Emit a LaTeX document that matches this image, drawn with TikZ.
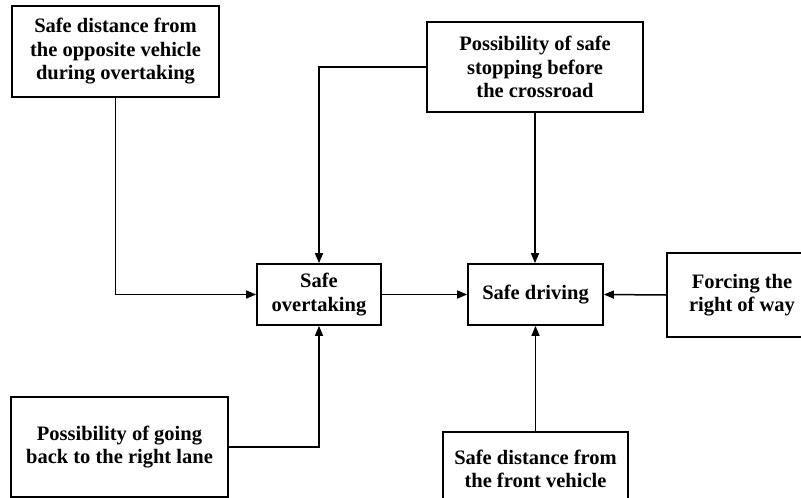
\documentclass[tikz,border=0pt]{standalone}
\usepackage{fontspec}
\setmainfont{Liberation Serif}
\usetikzlibrary{arrows.meta}
\begin{document}
\begin{tikzpicture}[x=1pt,y=-1pt,
  box/.style={draw, line width=1.7pt, inner sep=0pt, align=center,
    font=\fontsize{20.5}{23.5}\selectfont\bfseries},
  link/.style={line width=1.5pt, -{Triangle[length=10pt,width=8pt]}}]
\useasboundingbox (0,0) rectangle (801,498);
\clip (0,0) rectangle (801,498);
\fill[white] (0,0) rectangle (801,498);

% factor boxes
\node[box, minimum width=207pt, minimum height=91pt] (opp) at (115.5,51.5)
  {Safe distance from\\the opposite vehicle\\during overtaking};
\node[box, minimum width=216pt, minimum height=90pt] (stop) at (535,67)
  {Possibility of safe\\stopping before\\the crossroad};
\node[box, minimum width=124pt, minimum height=61pt] (over) at (319,294.5)
  {Safe\\overtaking};
\node[box, minimum width=135pt, minimum height=61pt] (drive) at (535.5,294.5)
  {Safe driving};
\node[box, minimum width=150pt, minimum height=84pt] (force) at (742,295)
  {Forcing the\\right of way};
\node[box, minimum width=217pt, minimum height=100pt] (lane) at (119.5,447)
  {Possibility of going\\back to the right lane};
\node[box, minimum width=185pt, minimum height=74pt] (front) at (535.5,469)
  {Safe distance from\\the front vehicle};

% influences
\draw[link] (opp.south) |- (over.west);
\draw[link] (stop.west) -| (over.north);
\draw[link] (lane.east) -| (over.south);
\draw[link] (stop.south) -- (stop.south |- drive.north);
\draw[link] (front.north) -- (front.north |- drive.south);
\draw[link] (over.east) -- (drive.west);
\draw[link] (force.west) -- (drive.east);
\end{tikzpicture}
\end{document}
